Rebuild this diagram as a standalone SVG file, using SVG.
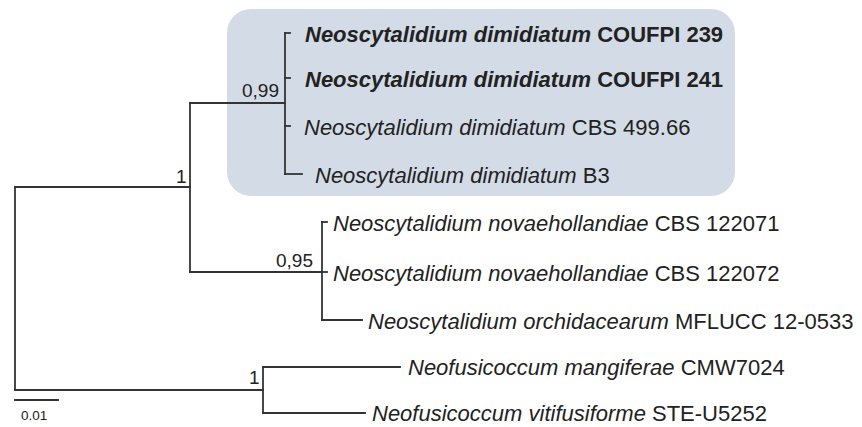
<svg xmlns="http://www.w3.org/2000/svg" width="862" height="427" viewBox="0 0 862 427">
<style>
.br{fill:none;stroke:#333;stroke-width:1.8;stroke-linecap:square}
.lf{font-family:"Liberation Sans",Arial,sans-serif;font-size:22px;fill:#222}
.it{font-style:italic}
.b{font-weight:bold}
.sup{font-family:"Liberation Sans",Arial,sans-serif;font-size:19px;fill:#222}
.sc{font-family:"Liberation Sans",Arial,sans-serif;font-size:13.5px;fill:#222}
</style>
<rect width="862" height="427" fill="#fff"/>
<rect id="highlight" x="227" y="9" width="508" height="187" rx="24" fill="#d3dbe6"/>
<g id="connectors" class="br">
<path d="M15,187 V390"/>
<path d="M15,187 H190"/>
<path d="M190,103 V272"/>
<path d="M190,103 H285"/>
<path d="M285,33 V174"/>
<path d="M285,33 H290"/>
<path d="M285,78 H290"/>
<path d="M285,126 H290"/>
<path d="M285,174 H302"/>
<path d="M190,272 H322"/>
<path d="M322,222 V320"/>
<path d="M322,222 H327"/>
<path d="M322,272 H327"/>
<path d="M322,320 H362"/>
<path d="M15,390 H263"/>
<path d="M263,367 V413"/>
<path d="M263,367 H400"/>
<path d="M263,413 H365"/>
<path d="M15,400 H58"/>
</g>
<g id="n1"><text class="lf b" x="305" y="42"><tspan class="it">Neoscytalidium dimidiatum</tspan> COUFPI 239</text></g>
<g id="n2"><text class="lf b" x="305" y="87"><tspan class="it">Neoscytalidium dimidiatum</tspan> COUFPI 241</text></g>
<g id="n3"><text class="lf" x="304" y="135"><tspan class="it">Neoscytalidium dimidiatum</tspan> CBS 499.66</text></g>
<g id="n4"><text class="lf" x="315" y="183"><tspan class="it">Neoscytalidium dimidiatum</tspan> B3</text></g>
<g id="n5"><text class="lf" x="333" y="231"><tspan class="it">Neoscytalidium novaehollandiae</tspan> CBS 122071</text></g>
<g id="n6"><text class="lf" x="333" y="281"><tspan class="it">Neoscytalidium novaehollandiae</tspan> CBS 122072</text></g>
<g id="n7"><text class="lf" x="368" y="329"><tspan class="it">Neoscytalidium orchidacearum</tspan> MFLUCC 12-0533</text></g>
<g id="n8"><text class="lf" x="408" y="375"><tspan class="it">Neofusicoccum mangiferae</tspan> CMW7024</text></g>
<g id="n9"><text class="lf" x="372" y="421"><tspan class="it">Neofusicoccum vitifusiforme</tspan> STE-U5252</text></g>
<g id="support">
<text class="sup" x="242" y="97">0,99</text>
<text class="sup" x="176" y="183">1</text>
<text class="sup" x="276" y="267">0,95</text>
<text class="sup" x="249" y="384">1</text>
</g>
<g id="scale"><text class="sc" x="21" y="420">0.01</text></g>
</svg>
